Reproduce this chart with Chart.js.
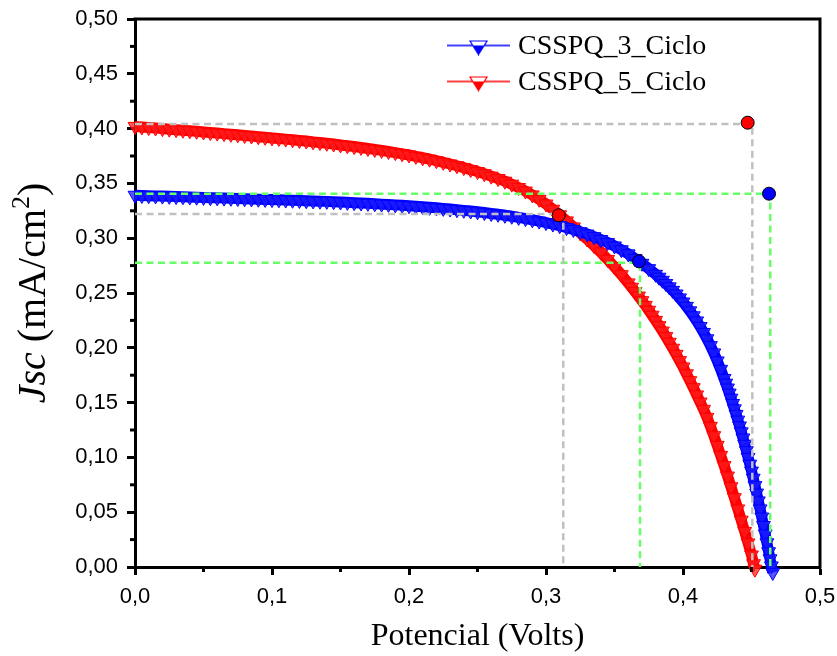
<!DOCTYPE html>
<html><head><meta charset="utf-8">
<script src="https://cdn.jsdelivr.net/npm/chart.js@4/dist/chart.umd.min.js"></script>
<style>html,body{margin:0;padding:0;background:#fff}canvas{display:block}</style>
</head><body>
<canvas id="c" width="837" height="656"></canvas>
<script>
// ---------- data ----------
const seriesNames = ['CSSPQ_3_Ciclo', 'CSSPQ_5_Ciclo'];
const xTitleText = 'Potencial (Volts)';
const yTitleParts = ['Jsc', ' (mA/cm', '2', ')'];
const xTicks = [0, 0.1, 0.2, 0.3, 0.4, 0.5];
const yTicks = [0, 0.05, 0.10, 0.15, 0.20, 0.25, 0.30, 0.35, 0.40, 0.45, 0.50];

const blueV = [0.000,0.005,0.010,0.015,0.020,0.025,0.030,0.035,0.040,0.045,0.050,0.055,0.060,0.065,0.070,0.075,0.080,0.085,0.090,0.095,
0.100,0.105,0.110,0.115,0.120,0.125,0.130,0.135,0.140,0.145,0.150,0.155,0.160,0.165,0.170,0.175,0.180,0.185,0.190,0.195,
0.200,0.205,0.210,0.215,0.220,0.225,0.230,0.235,0.240,0.245,0.250,0.255,0.260,0.265,0.270,0.275,0.280,0.285,0.290,0.295,
0.300,0.305,0.310,0.315,0.320,0.325,0.330,0.335,0.340,0.345,0.350,0.355,0.360,0.365,0.370,0.375,
0.3800,0.3825,0.3850,0.3875,0.3900,0.3925,0.3950,0.3975,0.4000,0.4025,0.4050,0.4075,0.4100,0.4125,0.4150,0.4175,0.4200,0.4225,0.4250,0.4275,
0.43000,0.43125,0.43250,0.43375,0.43500,0.43625,0.43750,0.43875,0.44000,0.44125,0.44250,0.44375,0.44500,0.44625,0.44750,0.44875,
0.45000,0.45125,0.45250,0.45375,0.45500,0.45625,0.45750,0.45875,0.46000,0.46125,0.46250,0.46350,0.46450,0.46550];
const blueJ = [0.3392,0.3390,0.3388,0.3386,0.3384,0.3382,0.3380,0.3378,0.3376,0.3374,0.3372,0.3370,0.3368,0.3366,0.3364,0.3362,0.3360,0.3358,0.3356,0.3354,
0.3352,0.3350,0.3348,0.3346,0.3344,0.3342,0.3340,0.3338,0.3336,0.3333,0.3330,0.3327,0.3324,0.3321,0.3318,0.3315,0.3311,0.3308,0.3304,0.3300,
0.3296,0.3292,0.3287,0.3282,0.3277,0.3272,0.3266,0.3260,0.3254,0.3248,0.3241,0.3234,0.3226,0.3218,0.3209,0.3200,0.3190,0.3179,0.3168,0.3156,
0.3143,0.3129,0.3114,0.3097,0.3079,0.3059,0.3038,0.3014,0.2988,0.2960,0.2929,0.2895,0.2857,0.2815,0.2771,0.2722,
0.2671,0.2644,0.2616,0.2587,0.2556,0.2524,0.2491,0.2455,0.2418,0.2378,0.2337,0.2292,0.2245,0.2194,0.2140,0.2082,0.2020,0.1953,0.1880,0.1803,
0.1720,0.1677,0.1633,0.1587,0.1540,0.1492,0.1443,0.1392,0.1340,0.1287,0.1233,0.1177,0.1120,0.1061,0.1000,0.0938,
0.0875,0.0810,0.0743,0.0674,0.0603,0.0530,0.0456,0.0379,0.0301,0.0221,0.0139,0.0075,0.0010,-0.0050];

const redV = [0.000,0.005,0.010,0.015,0.020,0.025,0.030,0.035,0.040,0.045,0.050,0.055,0.060,0.065,0.070,0.075,0.080,0.085,0.090,0.095,
0.100,0.105,0.110,0.115,0.120,0.125,0.130,0.135,0.140,0.145,0.150,0.155,0.160,0.165,0.170,0.175,0.180,0.185,0.190,0.195,
0.200,0.205,0.210,0.215,0.220,0.225,0.230,0.235,0.240,0.245,0.250,0.255,0.260,0.265,0.270,0.275,0.280,0.285,0.290,0.295,
0.300,0.305,0.310,0.315,0.320,0.325,0.330,0.335,0.340,0.345,0.350,0.355,
0.3600,0.3625,0.3650,0.3675,0.3700,0.3725,0.3750,0.3775,0.3800,0.3825,0.3850,0.3875,0.3900,0.3925,0.3950,0.3975,0.4000,0.4025,0.4050,0.4075,
0.4100,0.4125,0.4150,0.4175,0.4200,0.4225,0.4250,0.4275,0.4300,0.4325,0.4350,0.4375,0.4400,0.4425,0.4450,0.4475,0.4500,0.4515,0.4525];
const redJ = [0.4020,0.4015,0.4010,0.4005,0.4000,0.3995,0.3990,0.3985,0.3980,0.3975,0.3969,0.3964,0.3959,0.3954,0.3948,0.3943,0.3937,0.3932,0.3926,0.3921,
0.3915,0.3910,0.3904,0.3898,0.3892,0.3886,0.3879,0.3873,0.3866,0.3859,0.3851,0.3844,0.3836,0.3828,0.3819,0.3810,0.3801,0.3791,0.3781,0.3770,
0.3759,0.3747,0.3734,0.3721,0.3707,0.3692,0.3677,0.3661,0.3644,0.3626,0.3608,0.3588,0.3566,0.3544,0.3520,0.3493,0.3462,0.3430,0.3395,0.3355,
0.3312,0.3264,0.3213,0.3158,0.3103,0.3048,0.2992,0.2933,0.2872,0.2806,0.2739,0.2667,
0.2592,0.2553,0.2513,0.2472,0.2430,0.2387,0.2342,0.2297,0.2250,0.2202,0.2153,0.2102,0.2050,0.1996,0.1940,0.1883,0.1825,0.1763,0.1700,0.1636,
0.1570,0.1505,0.1438,0.1365,0.1283,0.1198,0.1110,0.1018,0.0925,0.0830,0.0732,0.0632,0.0530,0.0427,0.0324,0.0220,0.0110,0.0030,-0.0020];

// dashed guide lines (Voc / Jsc and maximum power point)
const guideRedVocX = [0, 0.4506, 0.4506];   const guideRedVocY = [0.4042, 0.4042, 0];
const guideBlueVocX = [0, 0.4637, 0.4637];  const guideBlueVocY = [0.3406, 0.3406, 0];
const guideRedMppX = [0, 0.3126, 0.3126];   const guideRedMppY = [0.3221, 0.3221, 0];
const guideBlueMppX = [0, 0.3686, 0.3686];  const guideBlueMppY = [0.2777, 0.2777, 0];
// circle markers
const redMarkX = [0.4472, 0.3093];  const redMarkY = [0.4054, 0.3209];
const blueMarkX = [0.4628, 0.3679]; const blueMarkY = [0.3406, 0.2789];

// ---------- helpers ----------
const pts = (xs, ys) => xs.map((v, i) => ({x: v, y: ys[i]}));
const BLUE = '#0000ff', RED = '#ff0000', GREY = '#c0c0c0', GREEN = '#66ff66';

function legendIcon(color) {
  const c = document.createElement('canvas');
  c.width = 63; c.height = 17;
  const g = c.getContext('2d');
  g.strokeStyle = color; g.lineWidth = 1.5;
  g.beginPath(); g.moveTo(0, 7); g.lineTo(63, 7); g.stroke();
  g.beginPath(); g.moveTo(23, 2.5); g.lineTo(40, 2.5); g.lineTo(31.5, 16); g.closePath();
  g.save(); g.clip();
  g.fillStyle = color; g.fillRect(0, 0, 63, 17);
  g.fillStyle = '#ffffff'; g.fillRect(0, 0, 63, 7);
  g.restore();
  g.lineWidth = 1.2; g.stroke();
  return c;
}
const icons = [legendIcon(BLUE), legendIcon(RED)];

const fmt = (v, d) => v.toFixed(d).replace('.', ',');

const framePlugin = {
  id: 'frame',
  afterLayout(chart) {
    const lg = chart.legend;
    if (lg) { lg.left = 445; lg.top = 25; lg.right = 800; lg.bottom = 140; lg.width = 355; lg.height = 115; }
  },
  afterDraw(chart) {
    const {ctx, chartArea: a, scales: {x, y}} = chart;
    ctx.save();
    ctx.strokeStyle = '#000'; ctx.lineWidth = 3; ctx.lineCap = 'square';
    ctx.beginPath(); ctx.moveTo(a.left, a.top); ctx.lineTo(a.right, a.top); ctx.lineTo(a.right, a.bottom); ctx.stroke();
    ctx.lineCap = 'butt';
    for (let i = 0; i < xTicks.length - 1; i++) {
      const px = x.getPixelForValue((xTicks[i] + xTicks[i + 1]) / 2);
      ctx.beginPath(); ctx.moveTo(px, a.bottom); ctx.lineTo(px, a.bottom + 5); ctx.stroke();
    }
    for (let i = 0; i < yTicks.length - 1; i++) {
      const py = y.getPixelForValue((yTicks[i] + yTicks[i + 1]) / 2);
      ctx.beginPath(); ctx.moveTo(a.left - 5, py); ctx.lineTo(a.left, py); ctx.stroke();
    }
    // y-axis title with italic symbol and superscript
    ctx.translate(0, 293); ctx.rotate(-Math.PI / 2);
    ctx.fillStyle = '#000'; ctx.textBaseline = 'alphabetic';
    const parts = [
      {t: yTitleParts[0], f: 'italic 40px "Liberation Serif"', dy: 0},
      {t: yTitleParts[1], f: '40px "Liberation Serif"', dy: 0},
      {t: yTitleParts[2], f: '26px "Liberation Serif"', dy: -16},
      {t: yTitleParts[3], f: '40px "Liberation Serif"', dy: 0}];
    let w = 0;
    parts.forEach(p => { ctx.font = p.f; p.w = ctx.measureText(p.t).width; w += p.w; });
    let tx = -w / 2;
    parts.forEach(p => { ctx.font = p.f; ctx.fillText(p.t, tx, 45 + p.dy); tx += p.w; });
    ctx.restore();
  }
};

const curveStyle = (col, fill, line) => ({
  type: 'scatter', showLine: true, borderColor: line, borderWidth: 11, tension: 0,
  pointStyle: 'triangle', pointRotation: 180, pointRadius: 8, pointBorderWidth: 1,
  pointBorderColor: col, pointBackgroundColor: fill, clip: false, order: 3
});
const dashStyle = (col) => ({
  type: 'line', showLine: true, borderColor: col, borderWidth: 2.5, borderDash: [7, 4.5],
  pointRadius: 0, fill: false, tension: 0, order: 2
});
const markStyle = (col) => ({
  type: 'scatter', pointStyle: 'circle', pointRadius: 6.5, pointBackgroundColor: col,
  pointBorderColor: '#000', pointBorderWidth: 1, showLine: false, order: 1, clip: false
});

new Chart(document.getElementById('c'), {
  type: 'scatter',
  data: {
    datasets: [
      Object.assign({label: seriesNames[0], data: pts(blueV, blueJ)}, curveStyle(BLUE, 'rgba(30,30,255,0.75)', '#0000ff')),
      Object.assign({label: seriesNames[1], data: pts(redV, redJ)}, curveStyle(RED, 'rgba(255,30,30,0.75)', '#ff0000')),
      Object.assign({label: 'g1', data: pts(guideRedVocX, guideRedVocY)}, dashStyle(GREY)),
      Object.assign({label: 'g2', data: pts(guideBlueVocX, guideBlueVocY)}, dashStyle(GREEN)),
      Object.assign({label: 'g3', data: pts(guideRedMppX, guideRedMppY)}, dashStyle(GREY)),
      Object.assign({label: 'g4', data: pts(guideBlueMppX, guideBlueMppY)}, dashStyle(GREEN)),
      Object.assign({label: 'm1', data: pts(redMarkX, redMarkY)}, markStyle(RED)),
      Object.assign({label: 'm2', data: pts(blueMarkX, blueMarkY)}, markStyle(BLUE))
    ]
  },
  options: {
    responsive: false, animation: false, devicePixelRatio: 1, events: [],
    layout: {autoPadding: false, padding: {top: 19, right: 17, bottom: 0, left: 0}},
    plugins: {
      tooltip: {enabled: false},
      legend: {
        position: 'chartArea', align: 'start',
        labels: {
          usePointStyle: true, pointStyleWidth: 51, padding: 8, color: '#000',
          font: {family: '"Liberation Serif"', size: 28},
          generateLabels: () => seriesNames.map((n, i) => ({
            text: n, pointStyle: icons[i], rotation: 0, fillStyle: 'transparent',
            strokeStyle: 'transparent', lineWidth: 0, hidden: false, datasetIndex: i, fontColor: '#000'
          }))
        }
      }
    },
    scales: {
      x: {
        type: 'linear', min: 0, max: 0.5,
        afterFit: s => { s.height = 89; s.paddingLeft = 0; s.paddingRight = 0; },
        afterBuildTicks: s => { s.ticks = xTicks.map(v => ({value: v})); },
        ticks: {callback: v => fmt(v, 1), color: '#000', padding: 9,
          font: {family: '"Liberation Sans"', size: 22}, maxRotation: 0},
        grid: {display: true, drawOnChartArea: false, drawTicks: true, tickLength: 8, tickWidth: 3, tickColor: '#000'},
        border: {display: true, width: 3, color: '#000'},
        title: {display: true, text: xTitleText, color: '#000', padding: {top: 0, bottom: 0},
          font: {family: '"Liberation Serif"', size: 32}}
      },
      y: {
        type: 'linear', min: 0, max: 0.5,
        afterFit: s => { s.width = 135; s.paddingTop = 0; s.paddingBottom = 0; },
        afterBuildTicks: s => { s.ticks = yTicks.map(v => ({value: v})); },
        ticks: {callback: v => fmt(v, 2), color: '#000', padding: 9,
          font: {family: '"Liberation Sans"', size: 22}},
        grid: {display: true, drawOnChartArea: false, drawTicks: true, tickLength: 8, tickWidth: 3, tickColor: '#000'},
        border: {display: true, width: 3, color: '#000'},
        title: {display: false}
      }
    }
  },
  plugins: [framePlugin]
});
</script>
</body></html>
